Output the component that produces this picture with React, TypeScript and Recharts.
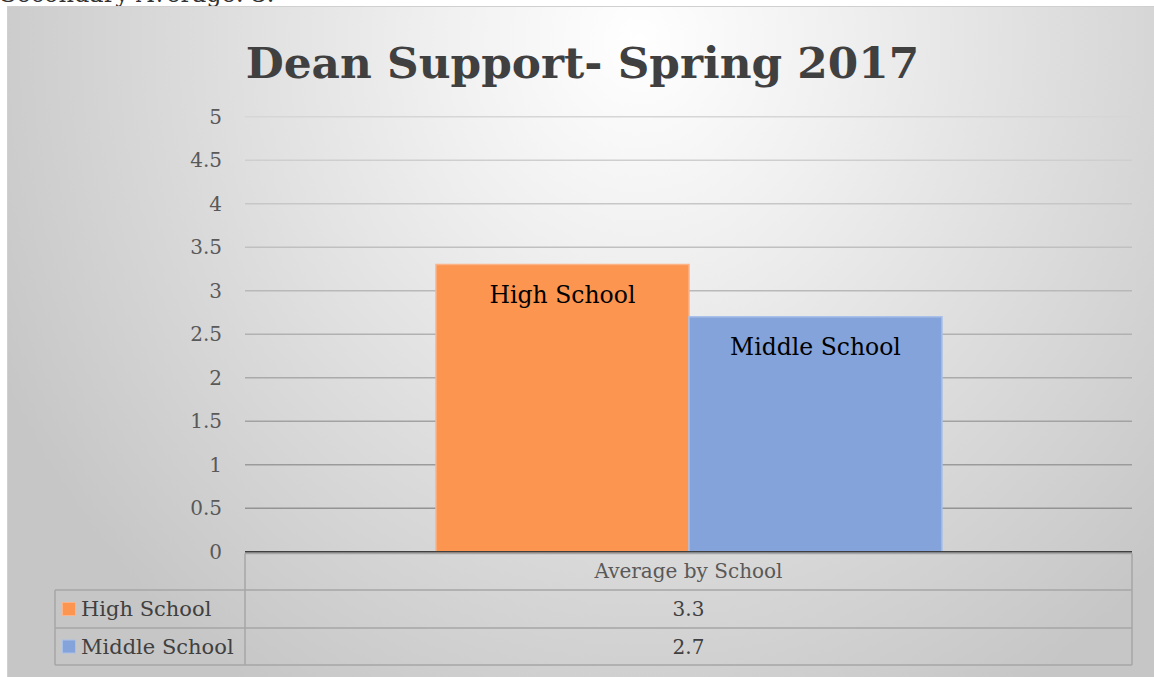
import React from "react";
import { BarChart, Bar, XAxis, YAxis, CartesianGrid, LabelList } from "recharts";

const categories = ["Average by School"];
const seriesNames = ["High School", "Middle School"];
const highSchool = [3.3];
const middleSchool = [2.7];
const yTicks = [0, 0.5, 1, 1.5, 2, 2.5, 3, 3.5, 4, 4.5, 5];
const seriesColors = ["#FB9550", "#84A3DA"];
const seriesBorders = ["#FCB387", "#A9C0E8"];
const title = "Dean Support- Spring 2017";
const cutText = "Secondary Average: 3.";

const data = categories.map((c, i) => ({
  name: c,
  hs: highSchool[i],
  ms: middleSchool[i],
}));
const seriesKeys = ["hs", "ms"];
const seriesValues = [highSchool, middleSchool];

const FONT = "'DejaVu Serif', serif";
const W = 1154;
const H = 677;

const makeLabel = (text: string) => (props: any) => {
  const { x, y, width } = props;
  return (
    <text
      x={Number(x) + Number(width) / 2}
      y={Number(y) + 38}
      textAnchor="middle"
      fontFamily={FONT}
      fontSize={23.5}
      fill="#000000"
    >
      {text}
    </text>
  );
};

export default function App() {
  const tableLine = "#a6a6a6";
  const rowTops = [553.5, 590, 628, 665];
  return (
    <div style={{ position: "absolute", left: 0, top: 0, width: W, height: H, overflow: "hidden", background: "#ffffff" }}>
      <div
        style={{
          position: "absolute",
          left: 0,
          top: -20,
          fontFamily: FONT,
          fontSize: 24,
          color: "#333333",
          whiteSpace: "nowrap",
        }}
      >
        {cutText}
      </div>
      <div
        style={{
          position: "absolute",
          left: 7,
          top: 6,
          width: W - 7,
          height: H - 6,
          boxSizing: "border-box",
          borderTop: "1px solid #d0d0d0",
          borderLeft: "1px solid #d0d0d0",
          background:
            "radial-gradient(ellipse 62% 115% at 55% 5%, #ffffff 0%, #f0f0f0 28%, #dcdcdc 62%, #c6c6c6 100%)",
        }}
      />
      <div style={{ position: "absolute", left: 0, top: 0 }}>
        <BarChart
          width={W}
          height={H}
          data={data}
          margin={{ top: 116.7, right: 22, bottom: 95.3, left: 0 }}
          barCategoryGap={191}
          barGap={0}
        >
          <defs>
            <linearGradient id="gridGrad" x1="0" y1="117" x2="0" y2="552" gradientUnits="userSpaceOnUse">
              <stop offset="0%" stopColor="#d6d6d6" />
              <stop offset="100%" stopColor="#8c8c8c" />
            </linearGradient>
          </defs>
          <CartesianGrid vertical={false} stroke="url(#gridGrad)" strokeWidth={1.6} />
          <XAxis
            dataKey="name"
            height={30}
            tickLine={false}
            axisLine={{ stroke: "#404040", strokeWidth: 1.5 }}
            tickMargin={6}
            tick={{ fontFamily: FONT, fontSize: 20, fill: "#595959" }}
          />
          <YAxis
            width={245}
            domain={[0, 5]}
            ticks={yTicks}
            tickLine={false}
            axisLine={false}
            tickMargin={17}
            interval={0}
            tick={{ fontFamily: FONT, fontSize: 20, fill: "#595959" }}
          />
          {seriesKeys.map((k, i) => (
            <Bar
              key={k}
              dataKey={k}
              name={seriesNames[i]}
              fill={seriesColors[i]}
              stroke={seriesBorders[i]}
              strokeWidth={1.5}
              isAnimationActive={false}
            >
              <LabelList dataKey={k} content={makeLabel(seriesNames[i])} />
            </Bar>
          ))}
        </BarChart>
      </div>
      <svg
        width={W}
        height={H}
        style={{ position: "absolute", left: 0, top: 0, pointerEvents: "none" }}
      >
        <text
          x={582.5}
          y={78}
          textAnchor="middle"
          fontFamily={FONT}
          fontWeight="bold"
          fontSize={43.8}
          fill="#404040"
        >
          {title}
        </text>
        {/* data table */}
        <line x1={245} y1={rowTops[0]} x2={1132} y2={rowTops[0]} stroke={tableLine} strokeWidth={1.5} />
        {rowTops.slice(1).map((y, i) => (
          <line key={"h" + i} x1={55} y1={y} x2={1132} y2={y} stroke={tableLine} strokeWidth={1.5} />
        ))}
        <line x1={55} y1={rowTops[1]} x2={55} y2={rowTops[3]} stroke={tableLine} strokeWidth={1.5} />
        <line x1={245} y1={rowTops[0]} x2={245} y2={rowTops[3]} stroke={tableLine} strokeWidth={1.5} />
        <line x1={1132} y1={rowTops[0]} x2={1132} y2={rowTops[3]} stroke={tableLine} strokeWidth={1.5} />
        {seriesNames.map((s, i) => {
          const yc = (rowTops[i + 1] + rowTops[i + 2]) / 2;
          return (
            <g key={s}>
              <rect x={62.5} y={yc - 6.5} width={13} height={13} fill={seriesColors[i]} stroke={seriesBorders[i]} strokeWidth={1} />
              <text x={81} y={yc + 7} fontFamily={FONT} fontSize={21} fill="#404040">
                {s}
              </text>
              <text x={688.5} y={yc + 7} textAnchor="middle" fontFamily={FONT} fontSize={20} fill="#404040">
                {seriesValues[i][0]}
              </text>
            </g>
          );
        })}
      </svg>
    </div>
  );
}
